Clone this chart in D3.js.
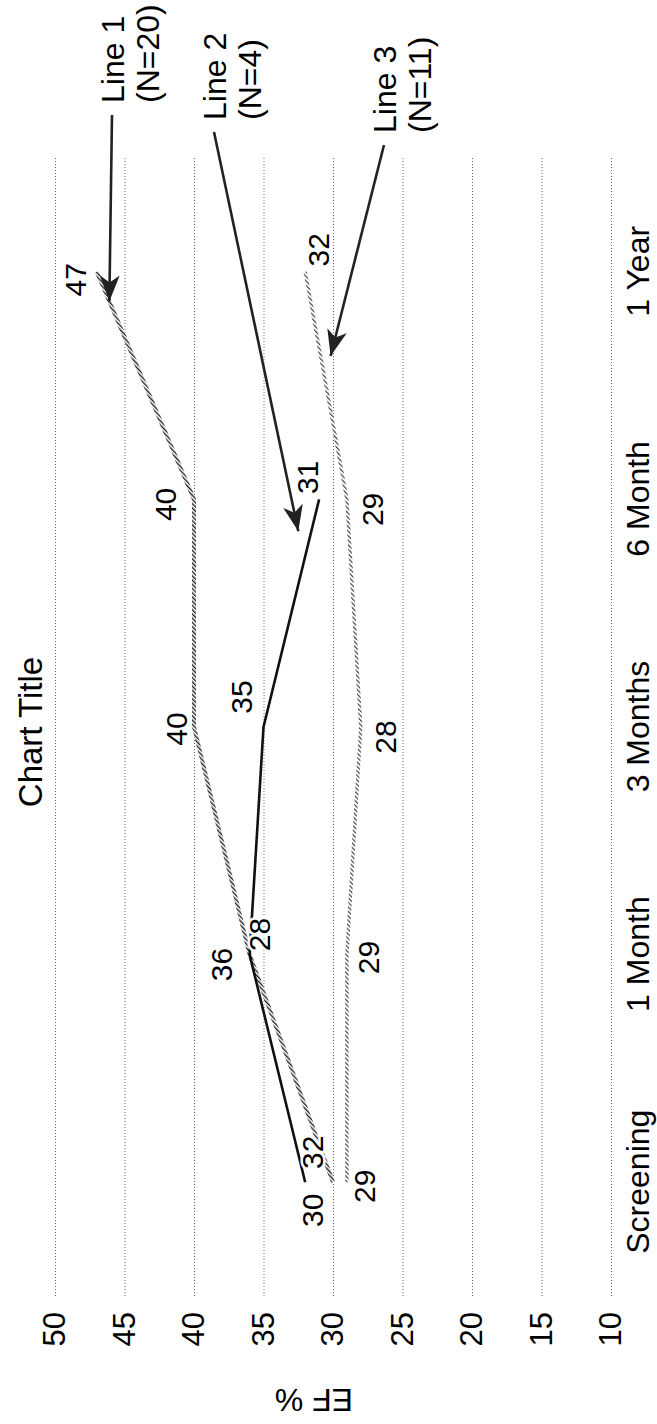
<!DOCTYPE html>
<html>
<head>
<meta charset="utf-8">
<script src="https://cdn.jsdelivr.net/npm/d3@7"></script>
<style>
  html, body { margin: 0; padding: 0; background: #fff; }
  svg { display: block; }
  text { font-family: "Liberation Sans", Arial, Helvetica, sans-serif; fill: #000; }
</style>
</head>
<body>
<svg id="chart" width="657" height="1424"></svg>
<script>
// ---------------- DATA ----------------
const categories = ["Screening", "1 Month", "3 Months", "6 Month", "1 Year"];
const line1Values = [30, 36, 40, 40, 47];
const line2Values = [32, 36, 35, 31, null];
const line2LabelText = ["32", "28", "35", "31", null];
const line3Values = [29, 29, 28, 29, 32];
const seriesNames = ["Line 1", "Line 2", "Line 3"];
const seriesCounts = ["(N=20)", "(N=4)", "(N=11)"];
const yTicks = [10, 15, 20, 25, 30, 35, 40, 45, 50];
const chartTitle = "Chart Title";
const yAxisTitle = "EF %";

// ---------------- LAYOUT (landscape chart, rotated -90deg onto the page) ----------------
const PAGE_W = 657, PAGE_H = 1424;
const plotLeft = 128, plotRight = 1266, plotTop = 55, plotBottom = 611;

const svg = d3.select("#chart");
const defs = svg.append("defs");

// hatch patterns for the "hatched" grey lines
const hatch1 = defs.append("pattern").attr("id", "hatch1")
  .attr("patternUnits", "userSpaceOnUse").attr("width", 3).attr("height", 3)
  .attr("patternTransform", "rotate(45)");
hatch1.append("rect").attr("width", 3).attr("height", 3).attr("fill", "#fff");
hatch1.append("rect").attr("width", 1.4).attr("height", 3).attr("fill", "#222");

const hatch3 = defs.append("pattern").attr("id", "hatch3")
  .attr("patternUnits", "userSpaceOnUse").attr("width", 3.2).attr("height", 3.2)
  .attr("patternTransform", "rotate(45)");
hatch3.append("rect").attr("width", 3.2).attr("height", 3.2).attr("fill", "#fff");
hatch3.append("rect").attr("width", 1.2).attr("height", 3.2).attr("fill", "#444");

defs.append("marker").attr("id", "arrowHead")
  .attr("markerUnits", "userSpaceOnUse")
  .attr("viewBox", "-30 -15 32 30")
  .attr("markerWidth", 32).attr("markerHeight", 30)
  .attr("refX", 0).attr("refY", 0)
  .attr("orient", "auto")
  .append("path").attr("d", "M0,0 L-26,-10 L-19,0 L-26,10 Z").attr("fill", "#222");

const g = svg.append("g").attr("transform", `translate(0,${PAGE_H}) rotate(-90)`);

const x = d3.scalePoint().domain(categories).range([plotLeft, plotRight]).padding(0.5);
const y = d3.scaleLinear().domain([10, 50]).range([plotBottom, plotTop]);

// value axis with gridlines
const yAxis = g.append("g").attr("transform", `translate(${plotLeft},0)`)
  .call(d3.axisLeft(y).tickValues(yTicks).tickSize(-(plotRight - plotLeft)).tickPadding(16).tickFormat(d3.format("d")));
yAxis.select(".domain").remove();
yAxis.selectAll(".tick line").attr("stroke", "#666").attr("stroke-width", 1).attr("stroke-dasharray", "1,2");
yAxis.selectAll(".tick text").attr("font-size", 31).attr("fill", "#000");

// category axis
const xAxis = g.append("g").attr("transform", `translate(0,${plotBottom})`)
  .call(d3.axisBottom(x).tickSize(0).tickPadding(15));
xAxis.select(".domain").remove();
xAxis.selectAll(".tick text").attr("font-size", 32).attr("fill", "#000");

// title
g.append("text").attr("x", 692).attr("y", 42).attr("text-anchor", "middle")
  .attr("font-size", 33).text(chartTitle);

// axis title
g.append("text").attr("transform", "translate(24,314) rotate(-90)")
  .attr("text-anchor", "middle").attr("dy", "0.35em").attr("font-size", 32).text(yAxisTitle);

// lines
const lineGen = d3.line()
  .defined(d => d.v != null)
  .x(d => x(d.c)).y(d => y(d.v));
const toPts = vals => vals.map((v, i) => ({ c: categories[i], v }));

const seriesDefs = [
  { vals: line3Values, stroke: "url(#hatch3)", width: 3.4 },
  { vals: line1Values, stroke: "url(#hatch1)", width: 4 },
  { vals: line2Values, stroke: "#111", width: 2.6 }
];
seriesDefs.forEach(s => {
  g.append("path").datum(toPts(s.vals))
    .attr("d", lineGen).attr("fill", "none")
    .attr("stroke", s.stroke).attr("stroke-width", s.width)
    .attr("stroke-linejoin", "round");
});

// data labels (offsets given in page pixels: [dx, dy])
const labelOffsets = [
  [[-21, 28], [-28, 10], [-18, 2], [-29, 5], [-21, 8]],
  [[7, -30], [10, -20], [-22, -30], [-12, -22]],
  [[18, 4], [22, 3], [25, 10], [26, 10], [13, -22]]
];
const labelSets = [
  { vals: line1Values, texts: line1Values.map(String), offs: labelOffsets[0] },
  { vals: line2Values, texts: line2LabelText, offs: labelOffsets[1] },
  { vals: line3Values, texts: line3Values.map(String), offs: labelOffsets[2] }
];
labelSets.forEach(set => {
  set.vals.forEach((v, i) => {
    if (v == null || set.texts[i] == null) return;
    const off = set.offs[i];
    g.append("text")
      .attr("x", x(categories[i]) - off[1])
      .attr("y", y(v) + off[0])
      .attr("dy", "0.35em")
      .attr("text-anchor", "middle")
      .attr("font-size", 30)
      .attr("stroke", "#fff").attr("stroke-width", 5).attr("paint-order", "stroke")
      .text(set.texts[i]);
  });
});

// annotation labels with arrows
const annot = [
  { vals: line1Values, labelX: 1321, labelY: 124, from: 4, to: 3, t: 0.13, dv: 0 },
  { vals: line2Values, labelX: 1304, labelY: 226, from: 3, to: 2, t: 0.14, dv: -13 },
  { vals: line3Values, labelX: 1291, labelY: 396, from: 4, to: 3, t: 0.37, dv: 10 }
];
annot.forEach((a, k) => {
  g.append("text").attr("x", a.labelX).attr("y", a.labelY).attr("font-size", 32).text(seriesNames[k]);
  g.append("text").attr("x", a.labelX).attr("y", a.labelY + 35).attr("font-size", 32).text(seriesCounts[k]);
  const u0 = x(categories[a.from]), v0 = y(a.vals[a.from]);
  const u1 = x(categories[a.to]), v1 = y(a.vals[a.to]);
  const tu = u0 + (u1 - u0) * a.t, tv = v0 + (v1 - v0) * a.t + a.dv;
  g.append("line")
    .attr("x1", a.labelX - 12).attr("y1", a.labelY - 12)
    .attr("x2", tu).attr("y2", tv)
    .attr("stroke", "#222").attr("stroke-width", 2.6)
    .attr("marker-end", "url(#arrowHead)");
});
</script>
</body>
</html>
